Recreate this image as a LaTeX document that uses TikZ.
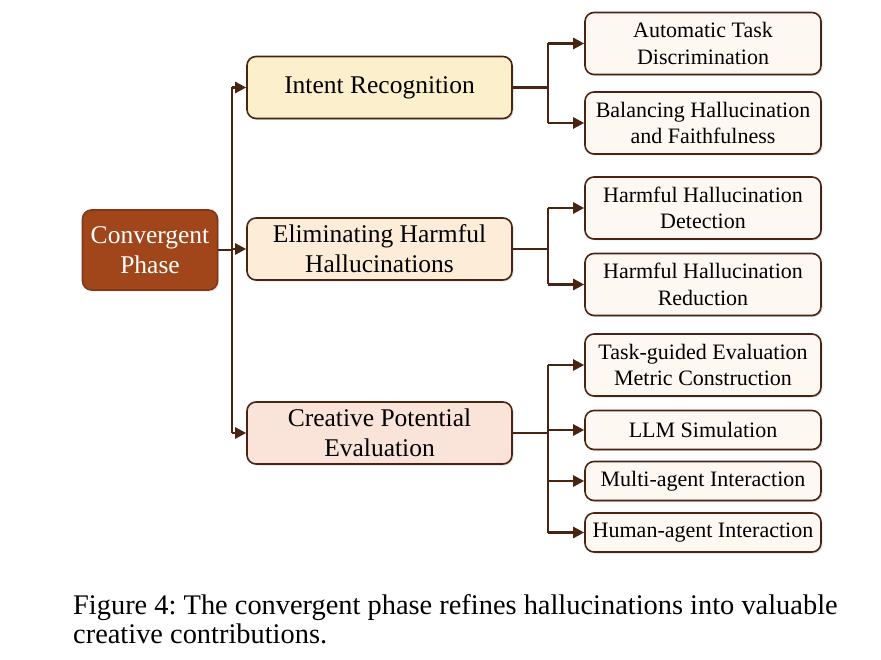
\documentclass[tikz,border=0pt]{standalone}
\usepackage{fontspec}
\setmainfont{Liberation Serif}
\usetikzlibrary{shadows,arrows.meta}
\frenchspacing
\definecolor{lineC}{HTML}{4A2412}
\definecolor{rootC}{HTML}{A1461B}
\definecolor{intentC}{HTML}{FCEFCB}
\definecolor{elimC}{HTML}{FDEDD8}
\definecolor{creaC}{HTML}{FAE4DA}
\definecolor{leafC}{HTML}{FDF8F1}
\tikzset{
  box/.style={draw=lineC, line width=1.6pt, rounded corners=9pt, align=center, inner sep=0pt,
    drop shadow={opacity=0.25, shadow xshift=1.5pt, shadow yshift=-1.5pt}},
  rootbox/.style={box, fill=rootC, text=white, minimum width=135pt, minimum height=80pt,
    font=\fontsize{25.5}{30}\selectfont, draw=rootC!80!black},
  midbox/.style={box, minimum width=265pt, minimum height=62pt, font=\fontsize{25.5}{30}\selectfont},
  leafbox/.style={box, fill=leafC, minimum width=236pt, font=\fontsize{22}{26.5}\selectfont},
  tall/.style={minimum height=62pt},
  short/.style={minimum height=39pt},
  conn/.style={draw=lineC, line width=2.5pt},
  arr/.style={conn, -{Triangle[length=11pt,width=11pt]}},
}
\begin{document}
\begin{tikzpicture}[x=1pt,y=-1pt]
\useasboundingbox (0,0) rectangle (881,660);
\node[rootbox] (root) at (150,250) {Convergent\\Phase};
\node[midbox, fill=intentC] (ir) at (379.5,87.5) {Intent Recognition};
\node[midbox, fill=elimC] (el) at (379.5,249) {Eliminating Harmful\\Hallucinations};
\node[midbox, fill=creaC] (cp) at (379.5,433) {Creative Potential\\Evaluation};
\node[leafbox, tall] (l1) at (703,43.5) {Automatic Task\\Discrimination};
\node[leafbox, tall] (l2) at (703,123) {Balancing Hallucination\\and Faithfulness};
\node[leafbox, tall] (l3) at (703,208) {Harmful Hallucination\\Detection};
\node[leafbox, tall] (l4) at (703,284.5) {Harmful Hallucination\\Reduction};
\node[leafbox, tall] (l5) at (703,365) {Task-guided Evaluation\\Metric Construction};
\node[leafbox, short] (l6) at (703,430) {LLM Simulation};
\node[leafbox, short] (l7) at (703,481) {Multi-agent Interaction};
\node[leafbox, short] (l8) at (703,532.5) {Human-agent Interaction};
% trunk
\coordinate (t0) at (232,250);
\draw[conn] (root.east) -- (t0);
\draw[arr] (t0 |- ir.west) -- (ir.west);
\draw[arr] (t0 |- el.west) -- (el.west);
\draw[arr] (t0 |- cp.west) -- (cp.west);
\draw[conn] (t0 |- ir.west) -- (t0 |- cp.west);
% branch 1
\coordinate (b1) at (548,87.5);
\draw[conn] (ir.east) -- (b1);
\draw[conn] (b1 |- l1.west) -- (b1 |- l2.west);
\draw[arr] (b1 |- l1.west) -- (l1.west);
\draw[arr] (b1 |- l2.west) -- (l2.west);
% branch 2
\coordinate (b2) at (548,249);
\draw[conn] (el.east) -- (b2);
\draw[conn] (b2 |- l3.west) -- (b2 |- l4.west);
\draw[arr] (b2 |- l3.west) -- (l3.west);
\draw[arr] (b2 |- l4.west) -- (l4.west);
% branch 3
\coordinate (b3) at (548,433);
\draw[conn] (cp.east) -- (b3);
\draw[conn] (b3 |- l5.west) -- (b3 |- l8.west);
\draw[arr] (b3 |- l5.west) -- (l5.west);
\draw[arr] (b3 |- l6.west) -- (l6.west);
\draw[arr] (b3 |- l7.west) -- (l7.west);
\draw[arr] (b3 |- l8.west) -- (l8.west);
% caption
\node[anchor=base west, inner sep=0pt, font=\fontsize{28.4}{29}\selectfont] (cap1) at (73,614) {Figure 4: The convergent phase refines hallucinations into valuable};
\node[anchor=base west, inner sep=0pt, font=\fontsize{28.4}{29}\selectfont] (cap2) at (73,643) {creative contributions.};
\end{tikzpicture}
\end{document}
